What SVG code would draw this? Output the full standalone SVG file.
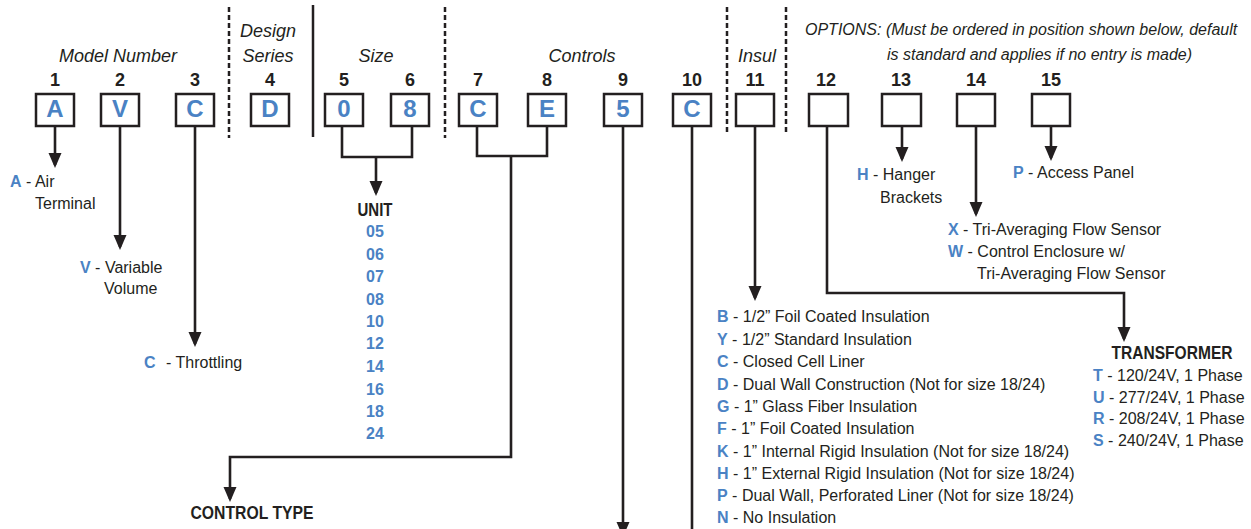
<svg xmlns="http://www.w3.org/2000/svg" width="1251" height="529" viewBox="0 0 1251 529">
<style>
text{font-family:"Liberation Sans",Arial,sans-serif;fill:#231f20}
.hd{font-size:18px;font-style:italic}
.op{font-size:16px;font-style:italic}
.num{font-size:18px;font-weight:bold;text-anchor:middle}
.bl{font-size:24px;font-weight:bold;fill:#4a82c4;text-anchor:middle}
.t{font-size:16px}
.k{font-weight:bold;fill:#4a82c4}
.h{font-size:17.5px;font-weight:bold;text-anchor:middle}
.u{font-size:16px;font-weight:bold;fill:#4a82c4;text-anchor:middle}
.box{fill:#fff;stroke:#231f20;stroke-width:2.5}
.ln{fill:none;stroke:#231f20;stroke-width:2.6}
.dash{stroke:#231f20;stroke-width:2.5;stroke-dasharray:5,3}
</style>
<defs>
<marker id="ah" markerUnits="userSpaceOnUse" markerWidth="16" markerHeight="14" viewBox="0 -7 16 14" refX="12" refY="0" orient="auto">
<path d="M0,-6.5 L15,0 L0,6.5 z" fill="#231f20"/>
</marker>
</defs>

<g id="headings">
<text class="hd" x="118" y="62" text-anchor="middle">Model Number</text>
<text class="hd" x="268" y="37" text-anchor="middle">Design</text>
<text class="hd" x="268" y="62" text-anchor="middle">Series</text>
<text class="hd" x="376" y="62" text-anchor="middle">Size</text>
<text class="hd" x="582" y="62" text-anchor="middle">Controls</text>
<text class="hd" x="757" y="62" text-anchor="middle">Insul</text>
<text class="op" x="805" y="35">OPTIONS: (Must be ordered in position shown below, default</text>
<text class="op" x="887" y="60">is standard and applies if no entry is made)</text>
</g>

<g id="separators">
<line class="dash" x1="229" y1="7" x2="229" y2="138"/>
<line x1="313" y1="5" x2="313" y2="137" stroke="#231f20" stroke-width="2.5"/>
<line class="dash" x1="445" y1="7" x2="445" y2="138"/>
<line class="dash" x1="727" y1="7" x2="727" y2="135"/>
<line class="dash" x1="786" y1="7" x2="786" y2="133"/>
</g>

<g id="connectors">
<line class="ln" x1="55" y1="126" x2="55" y2="165" marker-end="url(#ah)"/>
<line class="ln" x1="120" y1="126" x2="120" y2="247" marker-end="url(#ah)"/>
<line class="ln" x1="195" y1="126" x2="195" y2="344" marker-end="url(#ah)"/>
<path class="ln" d="M342,126 V157 H412 V126"/>
<line class="ln" x1="376" y1="157" x2="376" y2="193" marker-end="url(#ah)"/>
<path class="ln" d="M477,126 V156 H547 V126"/>
<path class="ln" d="M511,156 V457 H230 V499" marker-end="url(#ah)"/>
<line class="ln" x1="623" y1="126" x2="623" y2="534" marker-end="url(#ah)"/>
<line class="ln" x1="692" y1="126" x2="692" y2="540"/>
<line class="ln" x1="755" y1="126" x2="755" y2="298" marker-end="url(#ah)"/>
<path class="ln" d="M827,126 V293 H1124 V339" marker-end="url(#ah)"/>
<line class="ln" x1="902" y1="126" x2="902" y2="159" marker-end="url(#ah)"/>
<line class="ln" x1="976" y1="126" x2="976" y2="214" marker-end="url(#ah)"/>
<line class="ln" x1="1051" y1="126" x2="1051" y2="158" marker-end="url(#ah)"/>
</g>

<g id="pos1"><text class="num" x="55" y="86">1</text><rect class="box" x="36" y="94" width="38" height="32"/><text class="bl" x="55" y="117">A</text></g>
<g id="pos2"><text class="num" x="120" y="86">2</text><rect class="box" x="101" y="94" width="38" height="32"/><text class="bl" x="120" y="117">V</text></g>
<g id="pos3"><text class="num" x="195" y="86">3</text><rect class="box" x="176" y="94" width="38" height="32"/><text class="bl" x="195" y="117">C</text></g>
<g id="pos4"><text class="num" x="270" y="86">4</text><rect class="box" x="251" y="94" width="38" height="32"/><text class="bl" x="270" y="117">D</text></g>
<g id="pos5"><text class="num" x="344" y="86">5</text><rect class="box" x="325" y="94" width="38" height="32"/><text class="bl" x="344" y="117">0</text></g>
<g id="pos6"><text class="num" x="410" y="86">6</text><rect class="box" x="391" y="94" width="38" height="32"/><text class="bl" x="410" y="117">8</text></g>
<g id="pos7"><text class="num" x="478" y="86">7</text><rect class="box" x="459" y="94" width="38" height="32"/><text class="bl" x="478" y="117">C</text></g>
<g id="pos8"><text class="num" x="547" y="86">8</text><rect class="box" x="528" y="94" width="38" height="32"/><text class="bl" x="547" y="117">E</text></g>
<g id="pos9"><text class="num" x="623" y="86">9</text><rect class="box" x="604" y="94" width="38" height="32"/><text class="bl" x="623" y="117">5</text></g>
<g id="pos10"><text class="num" x="692" y="86">10</text><rect class="box" x="673" y="94" width="38" height="32"/><text class="bl" x="692" y="117">C</text></g>
<g id="pos11"><text class="num" x="755" y="86">11</text><rect class="box" x="736" y="94" width="38" height="32"/></g>
<g id="pos12"><text class="num" x="826" y="86">12</text><rect class="box" x="809" y="94" width="39" height="32"/></g>
<g id="pos13"><text class="num" x="901" y="86">13</text><rect class="box" x="882" y="94" width="39" height="32"/></g>
<g id="pos14"><text class="num" x="976" y="86">14</text><rect class="box" x="957" y="94" width="38" height="32"/></g>
<g id="pos15"><text class="num" x="1051" y="86">15</text><rect class="box" x="1032" y="94" width="38" height="32"/></g>

<g id="model-labels">
<text class="t" x="10" y="187"><tspan class="k">A</tspan> - Air</text>
<text class="t" x="35" y="209">Terminal</text>
<text class="t" x="80" y="273"><tspan class="k">V</tspan> - Variable</text>
<text class="t" x="104" y="294">Volume</text>
<text class="t" x="144" y="368"><tspan class="k">C</tspan><tspan x="166">- Throttling</tspan></text>
</g>

<g id="unit">
<text class="h" x="375" y="216" textLength="35" lengthAdjust="spacingAndGlyphs">UNIT</text>
<text class="u" x="375" y="237">05</text>
<text class="u" x="375" y="260">06</text>
<text class="u" x="375" y="282">07</text>
<text class="u" x="375" y="305">08</text>
<text class="u" x="375" y="327">10</text>
<text class="u" x="375" y="349">12</text>
<text class="u" x="375" y="372">14</text>
<text class="u" x="375" y="395">16</text>
<text class="u" x="375" y="417">18</text>
<text class="u" x="375" y="439">24</text>
</g>

<g id="control-type">
<text class="h" x="252" y="519" textLength="123" lengthAdjust="spacingAndGlyphs">CONTROL TYPE</text>
</g>

<g id="insulation">
<text class="t" x="717" y="322"><tspan class="k">B</tspan> - 1/2” Foil Coated Insulation</text>
<text class="t" x="717" y="345"><tspan class="k">Y</tspan> - 1/2” Standard Insulation</text>
<text class="t" x="717" y="367"><tspan class="k">C</tspan> - Closed Cell Liner</text>
<text class="t" x="717" y="390"><tspan class="k">D</tspan> - Dual Wall Construction (Not for size 18/24)</text>
<text class="t" x="717" y="412"><tspan class="k">G</tspan> - 1” Glass Fiber Insulation</text>
<text class="t" x="717" y="434"><tspan class="k">F</tspan> - 1” Foil Coated Insulation</text>
<text class="t" x="717" y="457"><tspan class="k">K</tspan> - 1” Internal Rigid Insulation (Not for size 18/24)</text>
<text class="t" x="717" y="479"><tspan class="k">H</tspan> - 1” External Rigid Insulation (Not for size 18/24)</text>
<text class="t" x="717" y="501"><tspan class="k">P</tspan> - Dual Wall, Perforated Liner (Not for size 18/24)</text>
<text class="t" x="717" y="523"><tspan class="k">N</tspan> - No Insulation</text>
</g>

<g id="options-labels">
<text class="t" x="857" y="180"><tspan class="k">H</tspan> - Hanger</text>
<text class="t" x="880" y="203">Brackets</text>
<text class="t" x="1013" y="178"><tspan class="k">P</tspan> - Access Panel</text>
<text class="t" x="948" y="235"><tspan class="k">X</tspan> - Tri-Averaging Flow Sensor</text>
<text class="t" x="948" y="257"><tspan class="k">W</tspan> - Control Enclosure w/</text>
<text class="t" x="977" y="279">Tri-Averaging Flow Sensor</text>
</g>

<g id="transformer">
<text class="h" x="1172" y="359" textLength="121" lengthAdjust="spacingAndGlyphs">TRANSFORMER</text>
<text class="t" x="1093" y="381"><tspan class="k">T</tspan> - 120/24V, 1 Phase</text>
<text class="t" x="1093" y="403"><tspan class="k">U</tspan> - 277/24V, 1 Phase</text>
<text class="t" x="1093" y="424"><tspan class="k">R</tspan> - 208/24V, 1 Phase</text>
<text class="t" x="1093" y="446"><tspan class="k">S</tspan> - 240/24V, 1 Phase</text>
</g>
</svg>
